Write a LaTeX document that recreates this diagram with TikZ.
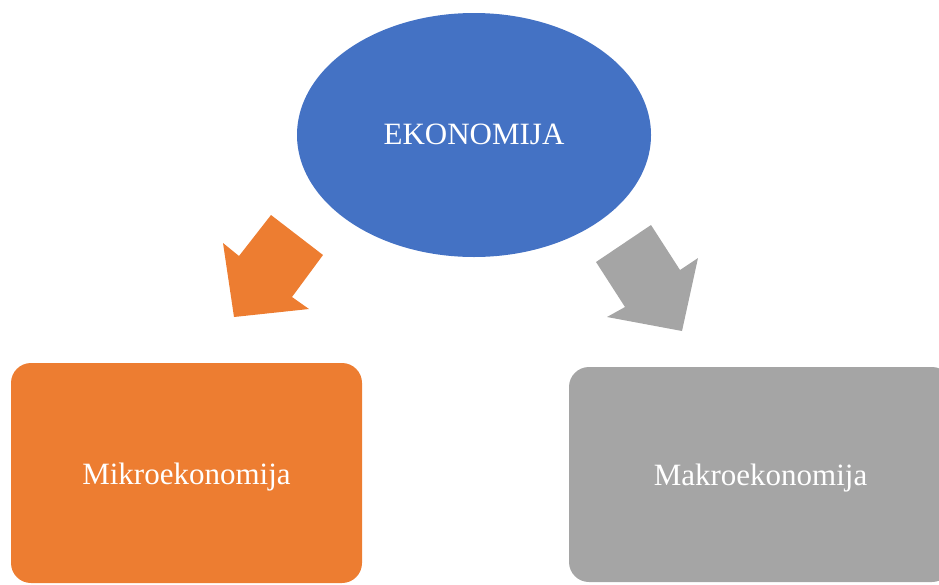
\documentclass[tikz,border=0pt]{standalone}
\usepackage{fontspec}
\setmainfont{Liberation Serif}
\usetikzlibrary{shapes.geometric}

\definecolor{ekoblue}{HTML}{4472C4}
\definecolor{ekoorange}{HTML}{ED7D31}
\definecolor{ekogray}{HTML}{A5A5A5}

\tikzset{
    ekotext/.style={text=white, font=\fontsize{31}{37}\selectfont, inner sep=0pt, text depth=0pt},
    ekobox/.style={ekotext, rectangle, rounded corners=20pt, text height=22pt}
}

\begin{document}
\begin{tikzpicture}[x=1pt, y=-1pt]

    \useasboundingbox (0,0) rectangle (939,584);

    \node[ekotext, ellipse, fill=ekoblue, minimum width=354pt, minimum height=244pt, text height=18pt] (eko) at (474,135) {EKONOMIJA};

    \node[ekobox, fill=ekoorange, minimum width=351pt, minimum height=220pt] (mikro) at (186.5,473) {Mikroekonomija};
    \node[ekobox, fill=ekogray, minimum width=383pt, minimum height=215pt] (makro) at (760.5,474.5) {Makroekonomija};

    % block arrows
    \fill[ekoorange] (271,215) -- (323,255) -- (292,297) -- (309,309) -- (234,317) -- (223,243) -- (239,256) -- cycle;
    \fill[ekogray] (596,262) -- (651,225) -- (680,270) -- (698,258) -- (682,331) -- (607,317) -- (625,307) -- cycle;

\end{tikzpicture}
\end{document}
